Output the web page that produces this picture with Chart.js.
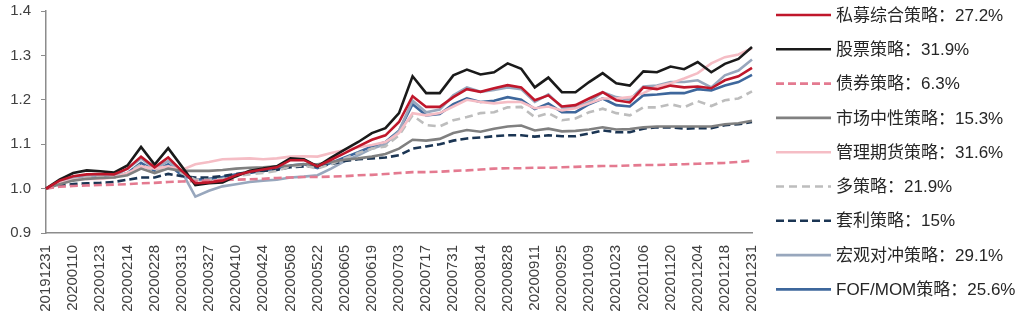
<!DOCTYPE html>
<html>
<head>
<meta charset="utf-8">
<script src="https://cdn.jsdelivr.net/npm/chart.js@4.4.1/dist/chart.umd.min.js"></script>
<style>
  html, body { margin: 0; padding: 0; background: #ffffff; }
  #wrap { width: 1018px; height: 322px; }
</style>
</head>
<body>
<div id="wrap"><canvas id="c" width="1018" height="322"></canvas></div>
<script>
// Weekly dates, 2019-12-31 to 2020-12-31
const dates = ['20191231','20200103','20200110','20200117','20200123','20200207','20200214','20200221','20200228','20200306',
  '20200313','20200320','20200327','20200403','20200410','20200417','20200424','20200430','20200508','20200515',
  '20200522','20200529','20200605','20200612','20200619','20200624','20200703','20200710','20200717','20200724',
  '20200731','20200807','20200814','20200821','20200828','20200904','20200911','20200918','20200925','20200930',
  '20201009','20201016','20201023','20201030','20201106','20201113','20201120','20201127','20201204','20201211',
  '20201218','20201225','20201231'];

// Net value of each strategy index (start = 1.0)
const privateAll = [1.000,1.018,1.028,1.032,1.033,1.032,1.045,1.072,1.048,1.070,1.040,1.012,1.014,1.018,1.030,1.038,1.043,1.048,1.064,1.064,1.050,1.065,1.080,1.095,1.110,1.120,1.150,1.208,1.184,1.184,1.206,1.224,1.218,1.226,1.233,1.228,1.199,1.210,1.185,1.188,1.203,1.217,1.199,1.194,1.228,1.224,1.232,1.228,1.230,1.226,1.244,1.253,1.272];
const equity = [1.000,1.020,1.035,1.041,1.039,1.036,1.052,1.094,1.054,1.091,1.050,1.008,1.012,1.014,1.028,1.040,1.045,1.050,1.068,1.066,1.050,1.070,1.088,1.105,1.125,1.136,1.170,1.253,1.215,1.215,1.255,1.268,1.257,1.262,1.282,1.270,1.228,1.250,1.217,1.217,1.240,1.260,1.237,1.232,1.264,1.262,1.275,1.269,1.285,1.262,1.281,1.292,1.319];
const bond = [1.000,1.004,1.006,1.007,1.008,1.009,1.010,1.012,1.013,1.015,1.016,1.017,1.018,1.019,1.020,1.021,1.022,1.024,1.025,1.026,1.026,1.027,1.028,1.030,1.031,1.033,1.035,1.037,1.037,1.038,1.040,1.041,1.043,1.045,1.046,1.046,1.047,1.047,1.048,1.049,1.050,1.051,1.051,1.052,1.053,1.053,1.054,1.055,1.056,1.057,1.058,1.060,1.063];
const marketNeutral = [1.000,1.010,1.018,1.022,1.024,1.025,1.030,1.045,1.035,1.045,1.040,1.040,1.040,1.042,1.045,1.047,1.048,1.050,1.052,1.055,1.055,1.060,1.065,1.068,1.072,1.078,1.090,1.110,1.108,1.112,1.125,1.132,1.128,1.135,1.140,1.142,1.131,1.135,1.129,1.130,1.133,1.138,1.133,1.134,1.138,1.140,1.140,1.140,1.140,1.140,1.145,1.147,1.153];
const managedFutures = [1.000,1.012,1.020,1.022,1.022,1.025,1.035,1.050,1.045,1.050,1.042,1.055,1.060,1.066,1.067,1.068,1.066,1.068,1.072,1.073,1.072,1.080,1.087,1.093,1.098,1.105,1.125,1.170,1.165,1.170,1.185,1.200,1.195,1.192,1.195,1.195,1.181,1.185,1.176,1.181,1.192,1.203,1.203,1.206,1.215,1.230,1.237,1.248,1.260,1.282,1.296,1.302,1.316];
const multiStrategy = [1.000,1.012,1.020,1.025,1.026,1.025,1.035,1.055,1.038,1.050,1.035,1.020,1.020,1.022,1.028,1.032,1.035,1.040,1.050,1.052,1.045,1.055,1.068,1.080,1.090,1.095,1.120,1.165,1.143,1.140,1.154,1.161,1.170,1.172,1.183,1.184,1.161,1.170,1.154,1.158,1.172,1.180,1.170,1.165,1.183,1.183,1.190,1.183,1.197,1.186,1.199,1.203,1.219];
const arbitrage = [1.000,1.007,1.010,1.012,1.013,1.015,1.020,1.025,1.025,1.033,1.028,1.025,1.025,1.028,1.033,1.037,1.040,1.042,1.048,1.050,1.050,1.055,1.062,1.066,1.068,1.070,1.075,1.090,1.095,1.100,1.108,1.113,1.115,1.118,1.120,1.120,1.117,1.120,1.118,1.118,1.124,1.131,1.127,1.127,1.135,1.138,1.138,1.135,1.136,1.136,1.143,1.145,1.150];
const macroHedge = [1.000,1.015,1.025,1.028,1.030,1.028,1.045,1.068,1.045,1.062,1.038,0.982,0.995,1.005,1.010,1.015,1.018,1.020,1.025,1.027,1.030,1.045,1.062,1.075,1.090,1.100,1.130,1.198,1.172,1.178,1.210,1.228,1.218,1.222,1.228,1.224,1.195,1.212,1.183,1.183,1.195,1.217,1.206,1.200,1.230,1.232,1.240,1.240,1.244,1.228,1.255,1.266,1.291];
const fofMom = [1.000,1.015,1.022,1.025,1.026,1.025,1.035,1.058,1.040,1.055,1.030,1.020,1.022,1.026,1.032,1.035,1.040,1.044,1.052,1.055,1.046,1.058,1.070,1.082,1.095,1.105,1.130,1.190,1.165,1.168,1.190,1.203,1.195,1.198,1.206,1.200,1.179,1.192,1.172,1.172,1.190,1.203,1.188,1.185,1.210,1.212,1.215,1.215,1.224,1.221,1.232,1.240,1.256];

// Legend names and full-year returns
const seriesNames = ['私募综合策略','股票策略','债券策略','市场中性策略','管理期货策略','多策略','套利策略','宏观对冲策略','FOF/MOM策略'];
const yearReturns = ['27.2%','31.9%','6.3%','15.3%','31.6%','21.9%','15%','29.1%','25.6%'];

// Y-axis tick values
const yTicks = [0.9, 1.0, 1.1, 1.2, 1.3, 1.4];

const seriesValues = [privateAll, equity, bond, marketNeutral, managedFutures, multiStrategy, arbitrage, macroHedge, fofMom];
const seriesStyles = [
  { color: '#C0172B', dash: [] },
  { color: '#1A1A1A', dash: [] },
  { color: '#E47A90', dash: [8, 4] },
  { color: '#808080', dash: [] },
  { color: '#F5BDC5', dash: [] },
  { color: '#BDBDBD', dash: [8, 5] },
  { color: '#1B3553', dash: [8, 4] },
  { color: '#98A7BD', dash: [] },
  { color: '#3E679C', dash: [] }
];

const datasets = seriesValues.map((vals, i) => ({
  label: seriesNames[i] + '：' + yearReturns[i],
  data: vals,
  borderColor: seriesStyles[i].color,
  backgroundColor: seriesStyles[i].color,
  borderDash: seriesStyles[i].dash,
  borderWidth: 2.6,
  pointRadius: 0,
  tension: 0,
  fill: false
}));

const tickFont = { family: '"Liberation Sans", Arial, sans-serif', size: 15 };

// Legend drawn as a column at the right of the plot
const sideLegend = {
  id: 'sideLegend',
  afterDraw(chart) {
    const ctx = chart.ctx;
    const x0 = 776, x1 = 831, top = 15, gap = 34.3;
    chart.data.datasets.forEach((ds, i) => {
      const y = top + i * gap;
      ctx.save();
      ctx.strokeStyle = ds.borderColor;
      ctx.lineWidth = 2.6;
      ctx.setLineDash(ds.borderDash || []);
      ctx.beginPath();
      ctx.moveTo(x0, y);
      ctx.lineTo(x1, y);
      ctx.stroke();
      ctx.setLineDash([]);
      ctx.fillStyle = '#262626';
      ctx.font = '17px "Liberation Sans", "Noto Sans CJK SC", sans-serif';
      ctx.textBaseline = 'middle';
      ctx.textAlign = 'left';
      ctx.fillText(ds.label, 836, y + 1);
      ctx.restore();
    });
  }
};

new Chart(document.getElementById('c'), {
  type: 'line',
  data: { labels: dates, datasets },
  plugins: [sideLegend],
  options: {
    responsive: false,
    animation: false,
    events: [],
    layout: { padding: { top: 11, right: 266, left: 0, bottom: 0 } },
    plugins: { legend: { display: false }, tooltip: { enabled: false } },
    scales: {
      x: {
        type: 'category',
        offset: false,
        grid: { display: false },
        border: { display: true, color: '#8c8c8c', width: 1.5 },
        ticks: {
          autoSkip: false,
          minRotation: 90,
          maxRotation: 90,
          padding: 4,
          color: '#404040',
          font: tickFont,
          callback(value, index) { return index % 2 === 0 ? this.getLabelForValue(value) : ''; }
        },
        afterFit(scale) { scale.height = 89; }
      },
      y: {
        min: yTicks[0],
        max: yTicks[yTicks.length - 1],
        afterBuildTicks(scale) { scale.ticks = yTicks.map(v => ({ value: v })); },
        grid: { display: true, drawOnChartArea: false, drawTicks: true, tickLength: 5, color: '#8c8c8c' },
        border: { display: true, color: '#8c8c8c', width: 1.5 },
        ticks: {
          padding: 10,
          color: '#404040',
          font: tickFont,
          callback(v) { return Number(v).toFixed(1); }
        },
        afterFit(scale) { scale.width = 46; scale.paddingTop = 0; scale.paddingBottom = 0; }
      }
    }
  }
});
</script>
</body>
</html>
